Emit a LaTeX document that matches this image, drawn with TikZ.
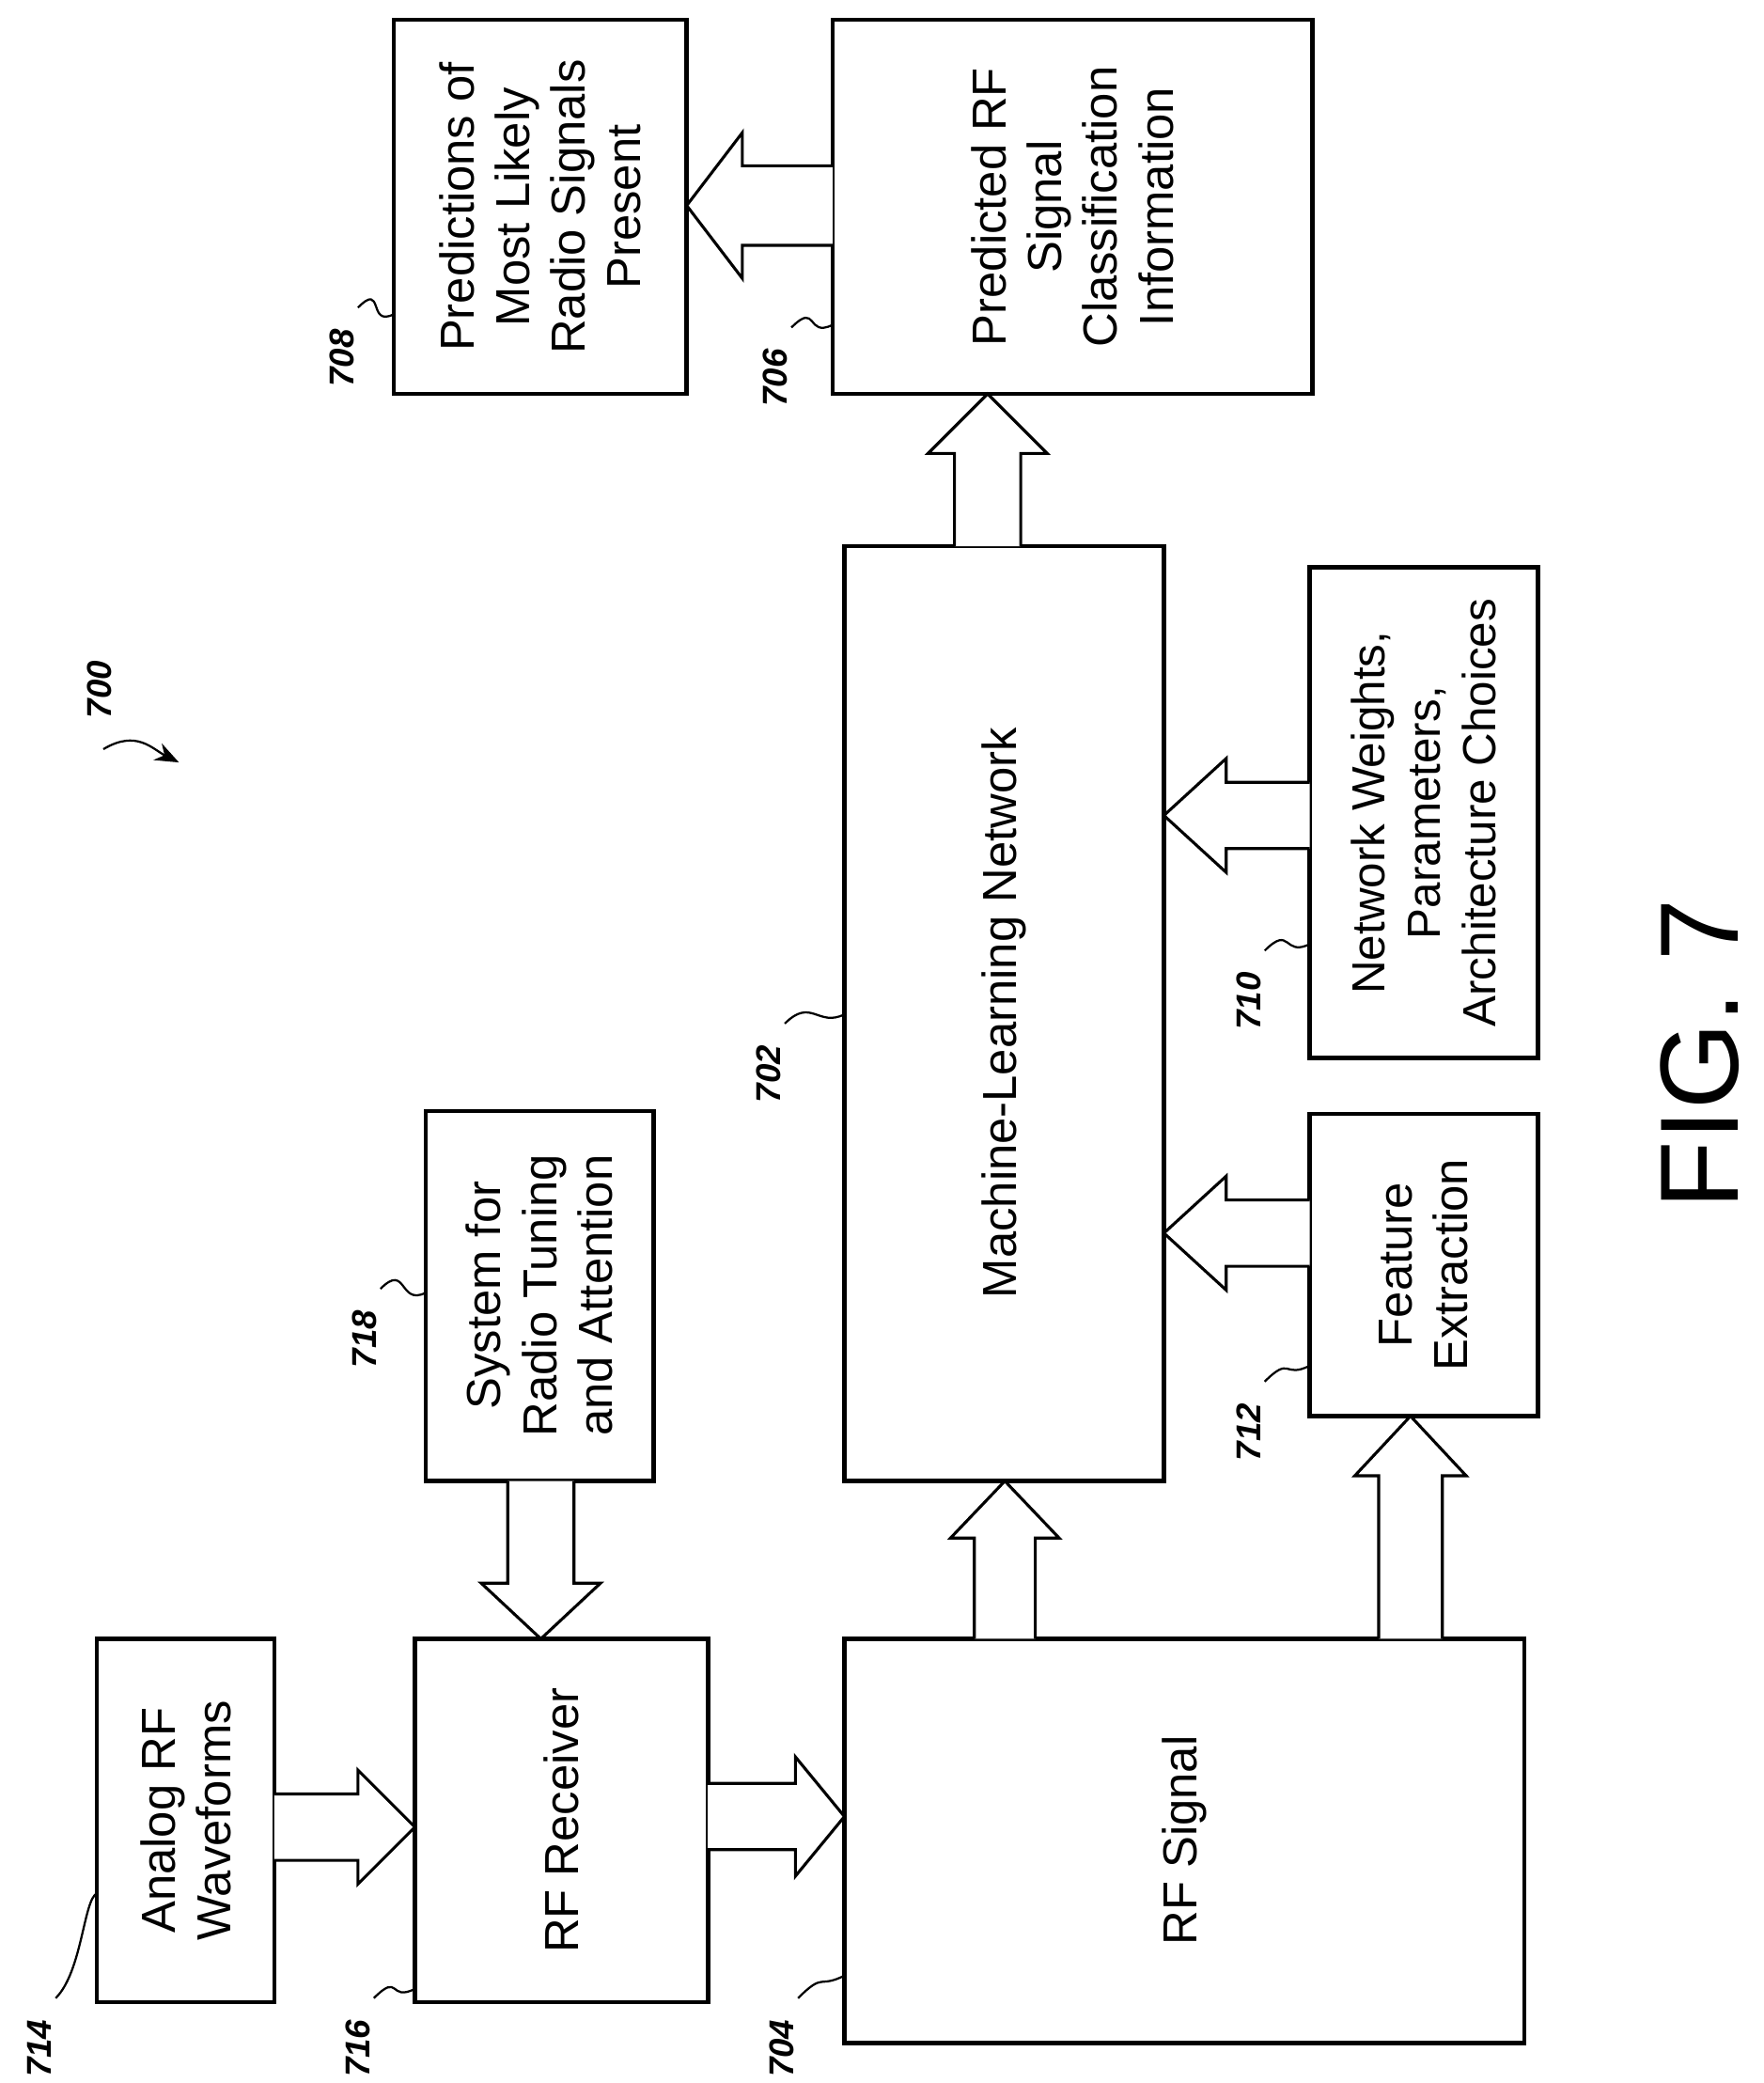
\documentclass[tikz,border=0pt]{standalone}
\usepackage{fontspec}
\setmainfont{Liberation Sans}
\usetikzlibrary{calc,arrows.meta}
\newcommand\barrH[6]{\draw[barr] (#1,{#3-#4}) -- ({#2-(#6)*sign(#2-#1)},{#3-#4}) -- ({#2-(#6)*sign(#2-#1)},{#3-#5}) -- (#2,#3) -- ({#2-(#6)*sign(#2-#1)},{#3+#5}) -- ({#2-(#6)*sign(#2-#1)},{#3+#4}) -- (#1,{#3+#4});}
\newcommand\barrV[6]{\draw[barr] ({#3-#4},#1) -- ({#3-#4},{#2-(#6)*sign(#2-#1)}) -- ({#3-#5},{#2-(#6)*sign(#2-#1)}) -- (#3,#2) -- ({#3+#5},{#2-(#6)*sign(#2-#1)}) -- ({#3+#4},{#2-(#6)*sign(#2-#1)}) -- ({#3+#4},#1);}
\newcommand\reflab[5]{\node[lab] (l#1) at (#2,#3) {#1}; \draw[sq] ($(#2,#3)+(12,-38)$) .. controls +(20,-20) and +(-20,10) .. (#4,#5);}
\begin{document}
\begin{tikzpicture}[x=0.5pt,y=-0.5pt,
  box/.style={draw,line width=1.6pt},
  txt/.style={rotate=90,align=center,font=\fontsize{18}{21}\selectfont},
  barr/.style={line width=1.1pt,fill=white,line join=miter},
  lab/.style={rotate=90,font=\fontsize{13}{15}\selectfont\bfseries\itshape},
  sq/.style={line width=0.8pt}]
\useasboundingbox (0,0) rectangle (1330,1571);
\draw[box] (297,15) rectangle (518,297);
\node[txt] (t708) at (407.5,156) {Predictions of\\Most Likely\\Radio Signals\\Present};
\draw[box] (628,15) rectangle (990,297);
\node[txt] (t706) at (809,156) {Predicted RF\\Signal\\Classification\\Information};
\draw[box] (637,412) rectangle (878,1117);
\node[txt] (t702) at (757.5,764) {Machine-Learning Network};
\draw[box] (988,428) rectangle (1160,798);
\node[txt,font=\fontsize{17.5}{21}\selectfont] (t710) at (1074,613) {Network Weights,\\Parameters,\\Architecture Choices};
\draw[box] (988,840) rectangle (1160,1068);
\node[txt] (t712) at (1074,954) {Feature\\Extraction};
\draw[box] (321,838) rectangle (493,1117);
\node[txt] (t718) at (407,977) {System for\\Radio Tuning\\and Attention};
\draw[box] (73,1236) rectangle (207,1510);
\node[txt] (t714) at (140,1373) {Analog RF\\Waveforms};
\draw[box] (313,1236) rectangle (534,1510);
\node[txt] (t716) at (423.5,1373) {RF Receiver};
\draw[box] (637,1236) rectangle (1150,1541);
\node[txt] (t704) at (893.5,1388) {RF Signal};
\barrH{628}{518}{155}{30}{55}{42}
\barrH{988}{878}{615}{25}{43}{47}
\barrH{988}{878}{930}{25}{43}{47}
\barrH{207}{313}{1378}{25}{43}{43}
\barrH{534}{637}{1370}{25}{45}{37}
\barrV{412}{297}{745}{25}{45}{45}
\barrV{1236}{1117}{758}{23}{41}{43}
\barrV{1236}{1068}{1064}{24}{42}{45}
\barrV{1117}{1236}{408}{25}{45}{42}
\reflab{708}{258}{270}{297}{237}
\reflab{706}{585}{285}{628}{245}
\reflab{702}{580}{810}{637}{765}
\reflab{710}{942}{755}{988}{712}
\reflab{712}{942}{1080}{988}{1030}
\reflab{718}{275}{1010}{321}{975}
\node[lab] (l714) at (30,1545) {714};
\draw[sq] (42,1507) .. controls +(20,-20) and +(-10,5) .. (73,1428);
\reflab{716}{270}{1545}{313}{1500}
\reflab{704}{590}{1545}{637}{1490}
\node[lab] (l700) at (75,520) {700};
\draw[sq,-{Stealth[length=9pt,width=7pt]}] (78,565) .. controls +(25,-15) and +(-20,-10) .. (135,575);
\node[rotate=90,font=\fontsize{42}{46}\selectfont] (fig) at (1282,795) {FIG. 7};
\end{tikzpicture}
\end{document}
